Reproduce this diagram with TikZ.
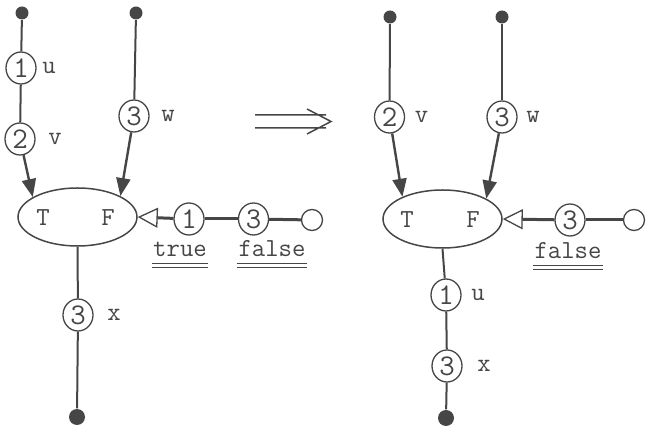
\documentclass[tikz,border=0pt]{standalone}
\usetikzlibrary{positioning,shapes.geometric,arrows.meta}
\definecolor{ink}{RGB}{70,70,70}

\begin{document}
\begin{tikzpicture}[x=1pt,y=-1pt,ink,line width=1.3pt,
  tok/.style={ellipse,draw,minimum width=30pt,minimum height=32pt,inner sep=0pt,font=\ttfamily\fontsize{30}{30}\selectfont},
  lbl/.style={font=\ttfamily\fontsize{26}{26}\selectfont,inner sep=1pt},
  sw/.style={ellipse,draw,line width=1.5pt,minimum width=119pt,minimum height=58pt},
  dot/.style={circle,fill=ink,inner sep=0pt,minimum size=13pt},
  sink/.style={circle,draw,inner sep=0pt,minimum size=21pt},
  wire/.style={line width=2pt},
  feed/.style={line width=2.4pt,-{Triangle[length=18pt,width=14pt]}},
  ctl/.style={line width=3pt,-{Triangle[open,length=20pt,width=20pt,line width=1.3pt]}}]
\useasboundingbox (0,0) rectangle (646,427);

% before
\node[dot] (a0) at (22,13) {};
\node[tok] (a1) at (21,68) {1};
\node[lbl,right=4pt of a1] {u};
\node[tok] (a2) at (20,139) {2};
\node[lbl,right=11pt of a2] {v};
\node[dot] (b0) at (136,13) {};
\node[tok] (b1) at (134,116) {3};
\node[lbl,right=10pt of b1] {w};

\node[sw] (s1) at (77.5,217) {};
\node[lbl] at (43,218) {T};
\node[lbl] at (108,218) {F};

\node[tok] (c1) at (189,219) {1};
\node[tok] (c2) at (253.5,219) {3};
\node[sink] (c3) at (312,220) {};
\node[lbl,anchor=base] (t1) at (180,257) {true};
\node[lbl,anchor=base] (f1) at (272,257) {false};

\node[tok] (d1) at (78,315) {3};
\node[lbl,right=12pt of d1] {x};
\node[dot,minimum size=16pt] (d2) at (77,417) {};

\draw[wire] (a0) -- (a1);
\draw[wire] (a1) -- (a2);
\draw[wire] (b0) -- (b1);
\draw[feed] (a2) -- (s1.156);
\draw[feed] (b1) -- (s1.26);
\draw[ctl] (c1) -- (s1.east);
\draw[wire,line width=3pt] (c1) -- (c2);
\draw[wire,line width=3pt] (c2) -- (c3);
\draw[wire] (s1.south) -- (d1);
\draw[wire] (d1) -- (d2);
\foreach \n in {t1,f1} {
  \draw[line width=1pt] ([yshift=-7pt]\n.base west) -- ([yshift=-7pt]\n.base east);
  \draw[line width=1pt] ([yshift=-10.5pt]\n.base west) -- ([yshift=-10.5pt]\n.base east);
}

% rewrite arrow
\draw[line width=1.5pt] (255,115) -- (326,115) (255,128) -- (326,128)
  (307,109) -- (331,121.5) -- (307,134);

% after
\node[dot] (p0) at (390,17) {};
\node[tok] (p1) at (389.5,117) {2};
\node[lbl,right=8pt of p1] {v};
\node[dot] (q0) at (502,17) {};
\node[tok] (q1) at (502,117) {3};
\node[lbl,right=7pt of q1] {w};

\node[sw] (s2) at (442.5,219) {};
\node[lbl] at (407,220) {T};
\node[lbl] at (473,220) {F};

\node[tok] (r1) at (570,220) {3};
\node[sink] (r2) at (634,220) {};
\node[lbl,anchor=base] (f2) at (568,259) {false};

\node[tok] (m1) at (446,295) {1};
\node[lbl,right=8pt of m1] {u};
\node[tok] (m2) at (447,366) {3};
\node[lbl,right=13pt of m2] {x};
\node[dot,minimum size=16pt] (m3) at (446,418) {};

\draw[wire] (p0) -- (p1);
\draw[wire] (q0) -- (q1);
\draw[feed] (p1) -- (s2.151);
\draw[feed] (q1) -- (s2.25);
\draw[ctl] (r1) -- (s2.east);
\draw[wire,line width=3pt] (r1) -- (r2);
\draw[wire] (s2.south) -- (m1);
\draw[wire] (m1) -- (m2);
\draw[wire] (m2) -- (m3);
\draw[line width=1pt] ([yshift=-7pt]f2.base west) -- ([yshift=-7pt]f2.base east);
\draw[line width=1pt] ([yshift=-10.5pt]f2.base west) -- ([yshift=-10.5pt]f2.base east);
\end{tikzpicture}
\end{document}
